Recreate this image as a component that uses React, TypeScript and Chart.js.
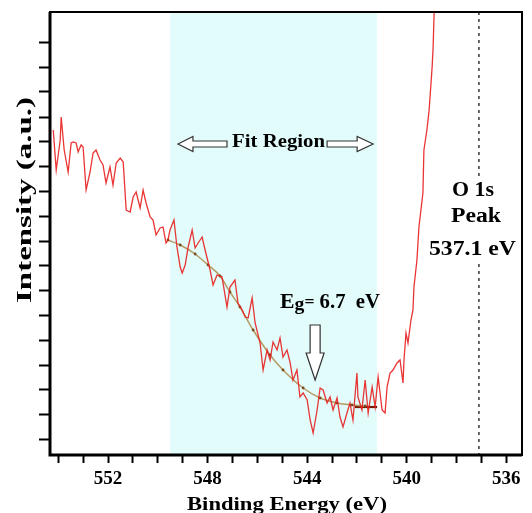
import React, { useEffect, useRef } from 'react';
import { Chart, registerables } from 'chart.js';

Chart.register(...registerables);

// Binding energy (eV) of the measured spectrum
const energy = [
  554.20, 554.08, 553.92, 553.88, 553.76, 553.60, 553.48, 553.40, 553.28, 553.20,
  553.08, 553.00, 552.88, 552.72, 552.60, 552.48, 552.32, 552.20, 552.08, 551.92,
  551.80, 551.67, 551.51, 551.39, 551.27, 551.11, 550.99, 550.87, 550.71, 550.59,
  550.47, 550.31, 550.19, 550.07, 549.91, 549.79, 549.67, 549.59, 549.51, 549.35,
  549.23, 549.10, 549.02, 548.90, 548.78, 548.62, 548.50, 548.38, 548.22, 548.10,
  547.90, 547.78, 547.62, 547.42, 547.22, 547.10, 546.90, 546.78, 546.61, 546.49,
  546.37, 546.21, 546.09, 545.89, 545.77, 545.61, 545.49, 545.37, 545.21, 545.09,
  544.97, 544.81, 544.69, 544.57, 544.41, 544.29, 544.16, 544.00, 543.88, 543.76,
  543.60, 543.48, 543.36, 543.20, 543.08, 542.96, 542.80, 542.68, 542.56, 542.40,
  542.28, 542.16, 542.00, 541.96, 541.80, 541.67, 541.55, 541.39, 541.27, 541.15,
  540.99, 540.87, 540.79, 540.67, 540.55, 540.39, 540.27, 540.15, 540.11, 540.03,
  539.95, 539.83, 539.75, 539.71, 539.59, 539.51, 539.43, 539.35, 539.31, 539.19,
  539.10, 538.98, 538.94, 538.90, 538.82,
];
// Intensity (a.u.) of the measured spectrum
const intensity = [
  325, 285, 315, 338, 305, 283, 312, 313, 312, 303,
  310, 308, 265, 283, 302, 305, 295, 290, 272, 288,
  270, 292, 297, 293, 245, 243, 258, 263, 247, 265,
  252, 238, 235, 220, 227, 228, 212, 215, 225, 235,
  208, 188, 182, 190, 208, 225, 207, 212, 218, 205,
  185, 170, 180, 178, 148, 168, 175, 152, 145, 138,
  137, 157, 132, 112, 85, 105, 95, 113, 105, 117,
  98, 105, 93, 75, 85, 58, 62, 55, 35, 22,
  45, 67, 65, 52, 58, 45, 57, 38, 28, 42,
  52, 35, 82, 58, 45, 75, 42, 68, 48, 78,
  45, 42, 68, 82, 85, 92, 95, 72, 95, 122,
  112, 135, 145, 168, 195, 228, 245, 262, 305, 325,
  345, 388, 408, 442, 475,
];
// Fitted background curve
const fitEnergy = [549.59, 549.10, 548.50, 547.98, 547.50, 547.10, 546.70, 546.17, 545.49, 544.97, 544.16, 543.48, 542.80, 542.20, 541.67];
const fitIntensity = [215, 210, 201, 190, 179, 163, 148, 125, 100, 85, 67, 57, 52, 50, 49];
// Flat onset segment
const edgeEnergy = [542.08, 541.19];
const edgeIntensity = [48, 48];

const xTicks = [536, 537, 538, 539, 540, 541, 542, 543, 544, 545, 546, 547, 548, 549, 550, 551, 552, 553, 554];
const xTickLabels = [552, 548, 544, 540, 536];
const yTicks = [16, 41, 66, 90, 115, 140, 165, 190, 214, 239, 264, 289, 314, 338, 363, 388, 413];
const xRange = [535.37, 554.33];
const yRange = [0, 443];

const fitRegion = [549.5, 541.2];
const peakEnergy = 537.1;
const bandGap = 6.7;

const xTitle = 'Binding Energy (eV)';
const yTitle = 'Intensity (a.u.)';
const fitLabel = 'Fit Region';
const peakLines = ['O 1s', 'Peak', `${peakEnergy} eV`];

const FONT = '"Liberation Serif", "Times New Roman", serif';

function drawText(ctx: CanvasRenderingContext2D, text: string, cx: number, by: number, size: number, width?: number) {
  ctx.save();
  ctx.font = `bold ${size}px ${FONT}`;
  const w = ctx.measureText(text).width;
  const s = width ? width / w : 1;
  ctx.translate(cx, by);
  ctx.scale(s, 1);
  ctx.textAlign = 'center';
  ctx.textBaseline = 'alphabetic';
  ctx.fillStyle = '#000';
  ctx.fillText(text, 0, 0);
  ctx.restore();
}

function hollowArrowH(ctx: CanvasRenderingContext2D, tipX: number, tailX: number, cy: number, headLen: number, headH: number, shaftH: number) {
  const dir = tailX > tipX ? 1 : -1;
  const hb = tipX + dir * headLen;
  ctx.save();
  ctx.beginPath();
  ctx.moveTo(tipX, cy);
  ctx.lineTo(hb, cy - headH / 2);
  ctx.lineTo(hb, cy - shaftH / 2);
  ctx.lineTo(tailX, cy - shaftH / 2);
  ctx.lineTo(tailX, cy + shaftH / 2);
  ctx.lineTo(hb, cy + shaftH / 2);
  ctx.lineTo(hb, cy + headH / 2);
  ctx.closePath();
  ctx.fillStyle = '#ffffff';
  ctx.fill();
  ctx.strokeStyle = '#333';
  ctx.lineWidth = 1.2;
  ctx.stroke();
  ctx.restore();
}

function hollowArrowV(ctx: CanvasRenderingContext2D, cx: number, tailY: number, headY: number, tipY: number, headW: number, shaftW: number) {
  ctx.save();
  ctx.beginPath();
  ctx.moveTo(cx - shaftW / 2, tailY);
  ctx.lineTo(cx + shaftW / 2, tailY);
  ctx.lineTo(cx + shaftW / 2, headY);
  ctx.lineTo(cx + headW / 2, headY);
  ctx.lineTo(cx, tipY);
  ctx.lineTo(cx - headW / 2, headY);
  ctx.lineTo(cx - shaftW / 2, headY);
  ctx.closePath();
  ctx.fillStyle = '#ffffff';
  ctx.fill();
  ctx.strokeStyle = '#333';
  ctx.lineWidth = 1.2;
  ctx.stroke();
  ctx.restore();
}

const decorPlugin = {
  id: 'decor',
  beforeDatasetsDraw(chart: any) {
    const { ctx, chartArea } = chart;
    const xs = chart.scales.x;
    const a = xs.getPixelForValue(fitRegion[0]);
    const b = xs.getPixelForValue(fitRegion[1]);
    ctx.save();
    ctx.fillStyle = 'rgb(226, 252, 252)';
    ctx.fillRect(Math.min(a, b), chartArea.top, Math.abs(b - a), chartArea.bottom - chartArea.top);
    // dashed peak marker
    const px = xs.getPixelForValue(peakEnergy);
    ctx.strokeStyle = '#000';
    ctx.lineWidth = 1.2;
    ctx.setLineDash([3, 4]);
    ctx.beginPath();
    ctx.moveTo(px, chartArea.top);
    ctx.lineTo(px, chartArea.bottom);
    ctx.stroke();
    ctx.restore();
  },
  afterDatasetsDraw(chart: any) {
    const { ctx, chartArea } = chart;
    const xs = chart.scales.x;
    const ys = chart.scales.y;
    const X = (v: number) => xs.getPixelForValue(v);
    const Y = (v: number) => ys.getPixelForValue(v);

    // Peak label box
    const px = X(peakEnergy);
    ctx.save();
    ctx.fillStyle = '#ffffff';
    ctx.fillRect(px - 52, Y(279), 92, Y(191) - Y(279));
    ctx.restore();
    drawText(ctx, peakLines[0], px - 6, Y(259), 20, 42);
    drawText(ctx, peakLines[1], px - 3, Y(233), 20, 50);
    drawText(ctx, peakLines[2], px - 6.5, Y(200), 20, 87);

    // Fit region label with arrows
    drawText(ctx, fitLabel, X(545.15), Y(308), 19, 93);
    hollowArrowH(ctx, X(549.19), X(547.22), Y(311), 15, 15, 6);
    hollowArrowH(ctx, X(541.35), X(543.20), Y(311), 16, 15, 6);

    // Band gap label
    ctx.save();
    const x0 = X(545.09);
    const by = Y(147);
    const parts = [
      { t: 'E', s: 21, dy: 0 },
      { t: 'g', s: 19, dy: 2 },
      { t: '=', s: 17, dy: -1 },
      { t: ` ${bandGap}  eV`, s: 20, dy: 0 },
    ];
    let total = 0;
    const ws: number[] = [];
    for (const p of parts) {
      ctx.font = `bold ${p.s}px ${FONT}`;
      const w = ctx.measureText(p.t).width;
      ws.push(w);
      total += w;
    }
    ctx.translate(x0, by);
    ctx.scale(100 / total, 1);
    ctx.fillStyle = '#000';
    ctx.textAlign = 'left';
    ctx.textBaseline = 'alphabetic';
    let cx = 0;
    parts.forEach((p, i) => {
      ctx.font = `bold ${p.s}px ${FONT}`;
      ctx.fillText(p.t, cx, p.dy);
      cx += ws[i];
    });
    ctx.restore();
    hollowArrowV(ctx, X(543.68), Y(130), Y(102), Y(75), 18, 10);

    // Frame
    ctx.save();
    ctx.strokeStyle = '#000';
    ctx.lineWidth = 2;
    ctx.strokeRect(chartArea.left, chartArea.top, chartArea.right - chartArea.left, chartArea.bottom - chartArea.top);
    ctx.lineWidth = 3;
    ctx.beginPath();
    ctx.moveTo(chartArea.left, chartArea.top);
    ctx.lineTo(chartArea.left, chartArea.bottom);
    ctx.lineTo(chartArea.right, chartArea.bottom);
    ctx.stroke();
    ctx.restore();
  },
  afterDraw(chart: any) {
    const { ctx, chartArea } = chart;
    drawText(ctx, xTitle, (chartArea.left + chartArea.right) / 2 + 1, chartArea.bottom + 55, 19, 200);
    ctx.save();
    ctx.translate(31, chartArea.top + 188);
    ctx.rotate(-Math.PI / 2);
    drawText(ctx, yTitle, 0, 0, 20, 206);
    ctx.restore();
  },
};

export default function App() {
  const ref = useRef<HTMLCanvasElement>(null);
  useEffect(() => {
    document.body.style.margin = '0';
    const canvas = ref.current;
    if (!canvas) return;
    const chart = new Chart(canvas, {
      type: 'line',
      data: {
        datasets: [
          {
            label: 'Spectrum',
            data: energy.map((e, i) => ({ x: e, y: intensity[i] })),
            borderColor: 'rgba(232, 30, 30, 0.9)',
            borderWidth: 1.3,
            pointRadius: 0,
            tension: 0,
          },
          {
            label: 'Fit',
            data: fitEnergy.map((e, i) => ({ x: e, y: fitIntensity[i] })),
            borderColor: '#b59a62',
            borderWidth: 1.5,
            pointRadius: 1.4,
            pointBackgroundColor: '#7a4a20',
            pointBorderWidth: 0,
            cubicInterpolationMode: 'monotone',
          },
          {
            label: 'Edge',
            data: edgeEnergy.map((e, i) => ({ x: e, y: edgeIntensity[i] })),
            borderColor: '#7a1a05',
            borderWidth: 2.2,
            pointRadius: 0,
          },
        ],
      },
      options: {
        responsive: false,
        maintainAspectRatio: false,
        devicePixelRatio: 1,
        animation: false,
        layout: { padding: { left: 0, top: 12, right: 10, bottom: 0 } },
        plugins: { legend: { display: false }, tooltip: { enabled: false } },
        scales: {
          x: {
            type: 'linear',
            reverse: true,
            min: xRange[0],
            max: xRange[1],
            border: { display: false },
            grid: { drawOnChartArea: false, drawTicks: true, tickLength: 8, tickWidth: 2, tickColor: '#000' },
            afterBuildTicks: (scale: any) => {
              scale.ticks = xTicks.map((v) => ({ value: v }));
            },
            afterFit: (scale: any) => {
              scale.height = 58;
            },
            ticks: {
              autoSkip: false,
              maxRotation: 0,
              minRotation: 0,
              padding: 5,
              color: '#000',
              font: { family: FONT, size: 19, weight: 'bold' },
              callback: (v: any) => (xTickLabels.includes(Number(v)) ? String(v) : ''),
            },
          },
          y: {
            type: 'linear',
            min: yRange[0],
            max: yRange[1],
            border: { display: false },
            grid: { drawOnChartArea: false, drawTicks: true, tickLength: 11, tickWidth: 2, tickColor: '#000' },
            afterBuildTicks: (scale: any) => {
              scale.ticks = yTicks.map((v) => ({ value: v }));
            },
            afterFit: (scale: any) => {
              scale.width = 50;
            },
            ticks: { display: false },
          },
        },
      },
      plugins: [decorPlugin],
    } as any);
    return () => chart.destroy();
  }, []);
  return <canvas ref={ref} width={532} height={513} style={{ display: 'block' }} />;
}
